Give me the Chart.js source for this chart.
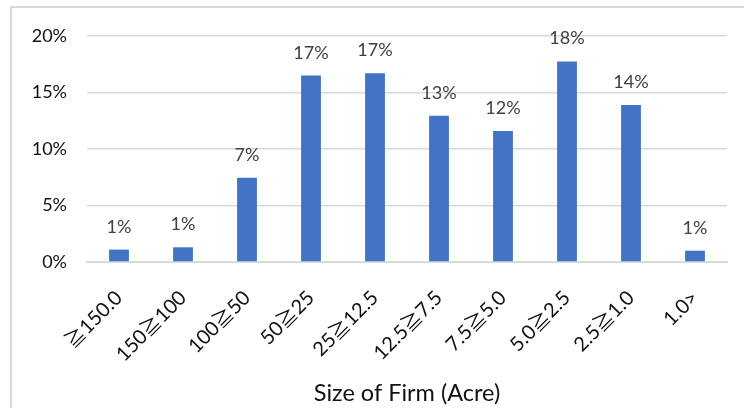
<!DOCTYPE html>
<html>
<head>
<meta charset="utf-8">
<script src="https://cdn.jsdelivr.net/npm/chart.js@4"></script>
<style>
  html, body { margin: 0; padding: 0; background: #ffffff; }
  #wrap { width: 744px; height: 408px; position: relative; }
</style>
</head>
<body>
<div id="wrap"><canvas id="c" width="744" height="408"></canvas></div>
<script>
// Share of firms by farm size class (percent)
const categories = ['≧150.0', '150≧100', '100≧50', '50≧25', '25≧12.5', '12.5≧7.5', '7.5≧5.0', '5.0≧2.5', '2.5≧1.0', '1.0>'];
const shares = [1.1, 1.3, 7.45, 16.5, 16.7, 12.95, 11.6, 17.75, 13.9, 1.0];
const yTickValues = [0, 5, 10, 15, 20];
const axisTitle = 'Size of Firm (Acre)';

// Latin text in Lato; the ≧ sign falls through to the CJK face
const FONT = 'Lato, "Noto Sans CJK JP", sans-serif';

// Light frame around the chart
const framePlugin = {
  id: 'frame',
  beforeDraw(chart) {
    const ctx = chart.ctx;
    ctx.save();
    ctx.fillStyle = '#ffffff';
    ctx.fillRect(0, 0, chart.width, chart.height);
    ctx.strokeStyle = '#d9d9d9';
    ctx.lineWidth = 2;
    ctx.beginPath();
    ctx.moveTo(11, chart.height);
    ctx.lineTo(11, 7);
    ctx.lineTo(chart.width, 7);
    ctx.stroke();
    ctx.restore();
  }
};

// Rounded percentage written above each bar
const valueLabels = {
  id: 'valueLabels',
  afterDatasetsDraw(chart) {
    const ctx = chart.ctx;
    const meta = chart.getDatasetMeta(0);
    ctx.save();
    ctx.font = '18px ' + FONT;
    ctx.fillStyle = '#404040';
    ctx.textAlign = 'center';
    ctx.textBaseline = 'alphabetic';
    meta.data.forEach((bar, i) => {
      const v = chart.data.datasets[0].data[i];
      ctx.fillText(Math.round(v) + '%', bar.x, bar.y - 17);
    });
    ctx.restore();
  }
};

new Chart(document.getElementById('c'), {
  type: 'bar',
  data: {
    labels: categories,
    datasets: [{
      data: shares,
      backgroundColor: '#4472c4',
      borderWidth: 0,
      barPercentage: 0.62,
      categoryPercentage: 0.5
    }]
  },
  options: {
    responsive: false,
    animation: false,
    devicePixelRatio: 1,
    layout: { padding: { top: 36, right: 17, left: 0, bottom: 0 } },
    plugins: {
      legend: { display: false },
      tooltip: { enabled: false }
    },
    scales: {
      x: {
        grid: { display: false, drawTicks: false },
        border: { display: true, color: '#d9d9d9', width: 2 },
        ticks: {
          color: '#111111',
          font: { family: FONT, size: 20 },
          minRotation: 45,
          maxRotation: 45,
          padding: 24,
          autoSkip: false
        },
        title: {
          display: true,
          text: axisTitle,
          color: '#111111',
          font: { family: FONT, size: 23.5 },
          padding: { top: 0, bottom: 0 }
        },
        afterFit(scale) { scale.height = 146; }
      },
      y: {
        min: 0,
        max: 20,
        afterBuildTicks(scale) { scale.ticks = yTickValues.map(v => ({ value: v })); },
        grid: { color: '#d9d9d9', lineWidth: 1.5, drawTicks: false },
        border: { display: false },
        ticks: {
          color: '#111111',
          font: { family: FONT, size: 18 },
          padding: 20,
          callback: v => v + '%'
        },
        afterFit(scale) { scale.width = 87; }
      }
    }
  },
  plugins: [framePlugin, valueLabels]
});
</script>
</body>
</html>
